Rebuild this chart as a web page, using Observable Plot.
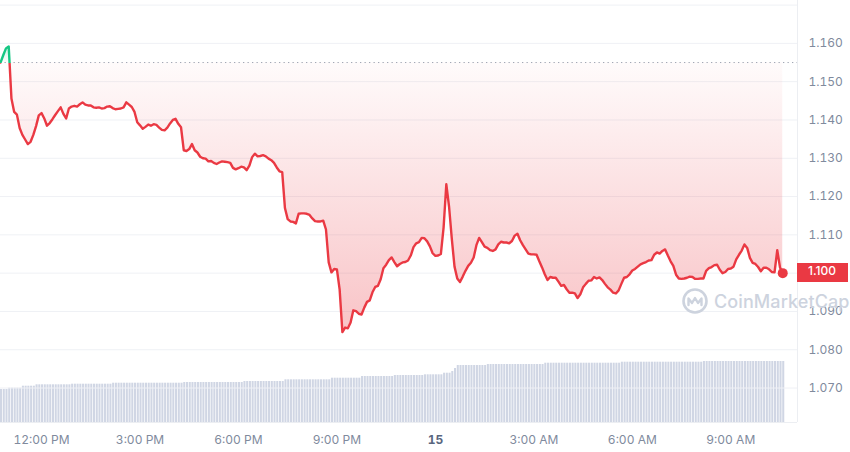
<!DOCTYPE html>
<html>
<head>
<meta charset="utf-8">
<script src="https://cdn.jsdelivr.net/npm/d3@7"></script>
<script src="https://cdn.jsdelivr.net/npm/@observablehq/plot@0.6"></script>
<style>
  html, body { margin: 0; padding: 0; background: #ffffff; }
  #chart { position: relative; width: 850px; height: 452px; overflow: hidden; font-family: Inter, "Noto Sans", sans-serif; }
  #chart > svg { position: absolute; left: 0; top: 0; }
  #wm { position: absolute; left: 681px; top: 287px; height: 28px; display: flex; align-items: center; gap: 5px;
        color: #cdd3de; font: 500 18px Inter, sans-serif; letter-spacing: 0.1px; pointer-events: none; }
  #badge { position: absolute; height: 19px; line-height: 19px; background: #ea3943; color: #ffffff;
           font: 500 12px Inter, sans-serif; box-sizing: border-box; padding-left: 11px; }
</style>
</head>
<body>
<div id="chart">
  <div id="wm">
    <svg width="28" height="28" viewBox="0 0 28 28">
      <circle cx="14" cy="14" r="11.5" fill="none" stroke="#cdd3de" stroke-width="2.6"/>
      <path d="M7.5 18 V11.5 L11 16 L14 11 L17 16 L20.5 11.5 V18" fill="none" stroke="#cdd3de" stroke-width="2.4" stroke-linejoin="round" stroke-linecap="round"/>
    </svg>
    <span>CoinMarketCap</span>
  </div>
  <div id="badge"></div>
</div>
<script>
// ---- data (5-minute samples starting at 10:45 AM on the 14th) ----
const startTime = new Date(2024, 2, 14, 10, 45);
const stepMinutes = 5;

const prices = [
  1.1550, 1.1569, 1.1587, 1.1592, 1.1456, 1.1421, 1.1414, 1.1379, 1.1361, 1.1349, 1.1337, 1.1343,
  1.1361, 1.1384, 1.1412, 1.1418, 1.1404, 1.1385, 1.1392, 1.1402, 1.1413, 1.1423, 1.1433, 1.1416,
  1.1404, 1.1430, 1.1435, 1.1437, 1.1435, 1.1441, 1.1446, 1.1440, 1.1438, 1.1438, 1.1433, 1.1432,
  1.1433, 1.1430, 1.1431, 1.1435, 1.1436, 1.1431, 1.1428, 1.1429, 1.1430, 1.1433, 1.1446, 1.1440,
  1.1434, 1.1421, 1.1394, 1.1386, 1.1377, 1.1382, 1.1388, 1.1385, 1.1389, 1.1387, 1.1380, 1.1374,
  1.1373, 1.1380, 1.1391, 1.1400, 1.1403, 1.1390, 1.1381, 1.1321, 1.1319, 1.1324, 1.1337, 1.1321,
  1.1315, 1.1304, 1.1300, 1.1299, 1.1292, 1.1293, 1.1288, 1.1285, 1.1289, 1.1292, 1.1291, 1.1290,
  1.1288, 1.1275, 1.1271, 1.1274, 1.1278, 1.1276, 1.1269, 1.1281, 1.1303, 1.1312, 1.1305, 1.1306,
  1.1308, 1.1305, 1.1299, 1.1295, 1.1288, 1.1276, 1.1266, 1.1264, 1.1170, 1.1141, 1.1135, 1.1134,
  1.1130, 1.1155, 1.1156, 1.1156, 1.1155, 1.1152, 1.1143, 1.1136, 1.1135, 1.1135, 1.1137, 1.1114,
  1.1028, 1.1002, 1.1011, 1.1010, 1.0957, 1.0846, 1.0858, 1.0856, 1.0871, 1.0903, 1.0901, 1.0894,
  1.0892, 1.0910, 1.0925, 1.0929, 1.0950, 1.0964, 1.0967, 1.0984, 1.1013, 1.1022, 1.1034, 1.1041,
  1.1029, 1.1018, 1.1024, 1.1028, 1.1029, 1.1033, 1.1046, 1.1068, 1.1078, 1.1081, 1.1092, 1.1091,
  1.1083, 1.1070, 1.1052, 1.1045, 1.1046, 1.1050, 1.1119, 1.1232, 1.1174, 1.1090, 1.1017, 1.0986,
  1.0977, 1.0991, 1.1006, 1.1019, 1.1027, 1.1041, 1.1073, 1.1092, 1.1081, 1.1069, 1.1066, 1.1060,
  1.1058, 1.1062, 1.1075, 1.1082, 1.1080, 1.1080, 1.1078, 1.1084, 1.1098, 1.1103, 1.1086, 1.1073,
  1.1062, 1.1051, 1.1049, 1.1049, 1.1048, 1.1031, 1.1015, 1.0997, 1.0982, 1.0990, 1.0988, 1.0988,
  1.0978, 1.0967, 1.0969, 1.0958, 1.0949, 1.0949, 1.0947, 1.0935, 1.0945, 1.0963, 1.0972, 1.0980,
  1.0981, 1.0990, 1.0986, 1.0989, 1.0982, 1.0972, 1.0963, 1.0957, 1.0949, 1.0947, 1.0955, 1.0972,
  1.0988, 1.0990, 1.0997, 1.1007, 1.1011, 1.1017, 1.1023, 1.1026, 1.1029, 1.1033, 1.1034, 1.1048,
  1.1054, 1.1051, 1.1058, 1.1062, 1.1046, 1.1031, 1.1019, 1.0996, 1.0986, 1.0985, 1.0986, 1.0988,
  1.0991, 1.0990, 1.0985, 1.0985, 1.0986, 1.0986, 1.1006, 1.1013, 1.1016, 1.1021, 1.1022, 1.1009,
  1.1000, 1.1003, 1.1011, 1.1012, 1.1017, 1.1036, 1.1048, 1.1059, 1.1075, 1.1066, 1.1040, 1.1027,
  1.1024, 1.1016, 1.1005, 1.1014, 1.1014, 1.1010, 1.1003, 1.1002, 1.1060, 1.1015, 1.1000
];

// rolling 24h volume per bar (relative units)
const volume24h = [
  33, 33, 33,
  34.3, 34.3, 34.3, 34.3, 34.3,
  36.3, 36.3, 36.3, 36.3, 36.3,
  37.7, 37.7, 37.7, 37.7, 37.7, 37.7, 37.7, 37.7, 37.7, 37.7, 37.7, 37.7, 37.7,
  38.3, 38.3, 38.3, 38.3, 38.3, 38.3, 38.3, 38.3, 38.3, 38.3, 38.3, 38.3, 38.3, 38.3, 38.3,
  39.3, 39.3, 39.3, 39.3, 39.3, 39.3, 39.3, 39.3, 39.3, 39.3, 39.3, 39.3, 39.3,
  39.3, 39.3, 39.3, 39.3, 39.3, 39.3, 39.3, 39.3, 39.3, 39.3, 39.3, 39.3, 39.3,
  40, 40, 40, 40, 40, 40, 40, 40, 40, 40, 40,
  40, 40, 40, 40, 40, 40, 40, 40, 40, 40, 40,
  41, 41, 41, 41, 41, 41, 41, 41, 41, 41, 41, 41, 41, 41, 41,
  42.7, 42.7, 42.7, 42.7, 42.7, 42.7, 42.7, 42.7, 42.7, 42.7, 42.7, 42.7, 42.7, 42.7, 42.7, 42.7, 42.7,
  44.3, 44.3, 44.3, 44.3, 44.3, 44.3, 44.3, 44.3, 44.3, 44.3, 44.3,
  46, 46, 46, 46, 46, 46, 46, 46, 46, 46, 46, 46,
  47, 47, 47, 47, 47, 47, 47, 47, 47, 47, 47,
  47.7, 47.7, 47.7, 47.7, 47.7, 47.7, 47.7,
  49.3, 49.3, 49.3,
  51, 54,
  57, 57, 57, 57, 57, 57, 57, 57, 57, 57, 57,
  58, 58, 58, 58, 58, 58, 58, 58, 58, 58, 58, 58, 58, 58, 58, 58, 58, 58, 58, 58, 58,
  59.3, 59.3, 59.3, 59.3, 59.3, 59.3, 59.3, 59.3, 59.3, 59.3, 59.3, 59.3, 59.3, 59.3,
  59.3, 59.3, 59.3, 59.3, 59.3, 59.3, 59.3, 59.3, 59.3, 59.3, 59.3, 59.3, 59.3, 59.3,
  60.3, 60.3, 60.3, 60.3, 60.3, 60.3, 60.3, 60.3, 60.3, 60.3, 60.3, 60.3, 60.3, 60.3, 60.3,
  60.3, 60.3, 60.3, 60.3, 60.3, 60.3, 60.3, 60.3, 60.3, 60.3, 60.3, 60.3, 60.3, 60.3, 60.3,
  61, 61, 61, 61, 61, 61, 61, 61, 61, 61, 61, 61, 61, 61, 61,
  61, 61, 61, 61, 61, 61, 61, 61, 61, 61, 61, 61, 61, 61, 61
];

const refPrice = 1.155;              // price 24h ago (dotted line)
const yTicks = [1.07, 1.08, 1.09, 1.10, 1.11, 1.12, 1.13, 1.14, 1.15, 1.16];
const yGrid = [1.07, 1.08, 1.09, 1.10, 1.11, 1.12, 1.13, 1.14, 1.15, 1.16, 1.17];
const yDomain = [1.061, 1.1712];
const xTickTimes = [
  new Date(2024, 2, 14, 12), new Date(2024, 2, 14, 15), new Date(2024, 2, 14, 18), new Date(2024, 2, 14, 21),
  new Date(2024, 2, 15, 0), new Date(2024, 2, 15, 3), new Date(2024, 2, 15, 6), new Date(2024, 2, 15, 9)
];
const xTickLabels = ["12:00 PM", "3:00 PM", "6:00 PM", "9:00 PM", "15", "3:00 AM", "6:00 AM", "9:00 AM"];
const xDomain = [startTime, new Date(2024, 2, 15, 11, 2)];
const volumeDomain = [0, 100];

// ---- build ----
const RED = "#ea3943", GREEN = "#16c784", AXIS = "#808a9d";
const fmt = d3.format(".3f");
const data = prices.map((p, i) => ({
  t: d3.timeMinute.offset(startTime, i * stepMinutes),
  p,
  v: volume24h[i]
}));
const last = data[data.length - 1];
const labelOf = new Map(xTickTimes.map((d, i) => [+d, xTickLabels[i]]));
// the tick hidden under the current-price badge
const axisTicks = yTicks.filter(d => fmt(d) !== fmt(last.p));

const common = {
  width: 850, height: 452,
  marginLeft: 0, marginRight: 53, marginTop: 0, marginBottom: 30,
  style: { background: "transparent", fontFamily: "Inter, sans-serif", overflow: "visible" }
};

const volPlot = Plot.plot({
  ...common,
  x: { type: "time", domain: xDomain, axis: null },
  y: { domain: volumeDomain, range: [422, 322], axis: null },
  marks: [
    Plot.rectY(data, {
      x1: "t",
      x2: d => d3.timeMinute.offset(d.t, stepMinutes),
      y: "v",
      fill: "#d0d6e4",
      insetRight: 0.7
    })
  ]
});

const pricePlot = Plot.plot({
  ...common,
  x: { type: "time", domain: xDomain, label: null },
  y: { domain: yDomain, label: null },
  marks: [
    Plot.gridY(yGrid, { stroke: "#eff1f5", strokeOpacity: 1 }),
    Plot.ruleY([yDomain[0]], { stroke: "#eceef2" }),
    Plot.ruleX([xDomain[1]], { stroke: "#eceef2" }),
    Plot.areaY(data, { x: "t", y1: d => refPrice, y2: d => Math.min(d.p, refPrice), fill: "url(#cmcRedFill)" }),
    Plot.areaY(data, { x: "t", y1: d => refPrice, y2: d => Math.max(d.p, refPrice), fill: "url(#cmcGreenFill)" }),
    Plot.ruleY([refPrice], { stroke: "#9fa6b3", strokeDasharray: "1.3,3.2" }),
    Plot.lineY(data, { x: "t", y: "p", stroke: "url(#cmcLineStroke)", strokeWidth: 2.4, strokeLinejoin: "round" }),
    Plot.dot([last], { x: "t", y: "p", r: 5, fill: RED, stroke: "none" }),
    Plot.axisY(axisTicks, {
      anchor: "right", tickSize: 0, tickPadding: 11, label: null,
      tickFormat: fmt, fontSize: 12, color: AXIS
    }),
    Plot.axisX(xTickTimes, {
      anchor: "bottom", tickSize: 0, tickPadding: 13, label: null,
      tickFormat: d => labelOf.get(+d), fontSize: 12, color: AXIS
    })
  ]
});

// gradients using the plot's own y scale
const ys = pricePlot.scale("y");
const xs = pricePlot.scale("x");
const yBase = ys.apply(refPrice);
const yLow = ys.apply(d3.min(prices));
const yHigh = ys.apply(d3.max(prices));
const svg = d3.select(pricePlot);
const defs = svg.insert("defs", ":first-child");

const lg = defs.append("linearGradient").attr("id", "cmcLineStroke")
  .attr("gradientUnits", "userSpaceOnUse").attr("x1", 0).attr("x2", 0).attr("y1", 0).attr("y2", 452);
lg.append("stop").attr("offset", yBase / 452).attr("stop-color", GREEN);
lg.append("stop").attr("offset", yBase / 452).attr("stop-color", RED);

const rg = defs.append("linearGradient").attr("id", "cmcRedFill")
  .attr("gradientUnits", "userSpaceOnUse").attr("x1", 0).attr("x2", 0).attr("y1", yBase).attr("y2", yLow);
rg.append("stop").attr("offset", 0).attr("stop-color", RED).attr("stop-opacity", 0.02);
rg.append("stop").attr("offset", 1).attr("stop-color", RED).attr("stop-opacity", 0.3);

const gg = defs.append("linearGradient").attr("id", "cmcGreenFill")
  .attr("gradientUnits", "userSpaceOnUse").attr("x1", 0).attr("x2", 0).attr("y1", yBase).attr("y2", yHigh);
gg.append("stop").attr("offset", 0).attr("stop-color", GREEN).attr("stop-opacity", 0.02);
gg.append("stop").attr("offset", 1).attr("stop-color", GREEN).attr("stop-opacity", 0.2);

// axis text styling
svg.selectAll("text").attr("font-family", "Inter, sans-serif");
svg.selectAll("text").filter(function () { return this.textContent === "15"; })
  .attr("font-weight", 700).attr("fill", "#58667e");

// current price badge on the y axis (positioned with the plot's scales)
const badge = document.getElementById("badge");
const xRight = xs.apply(xDomain[1]);
badge.style.left = xRight + "px";
badge.style.top = (ys.apply(last.p) - 9.5) + "px";
badge.style.width = (850 - xRight - 2) + "px";
badge.textContent = fmt(last.p);

const chart = document.getElementById("chart");
chart.insertBefore(volPlot, chart.firstChild);
chart.insertBefore(pricePlot, document.getElementById("wm"));
</script>
</body>
</html>
